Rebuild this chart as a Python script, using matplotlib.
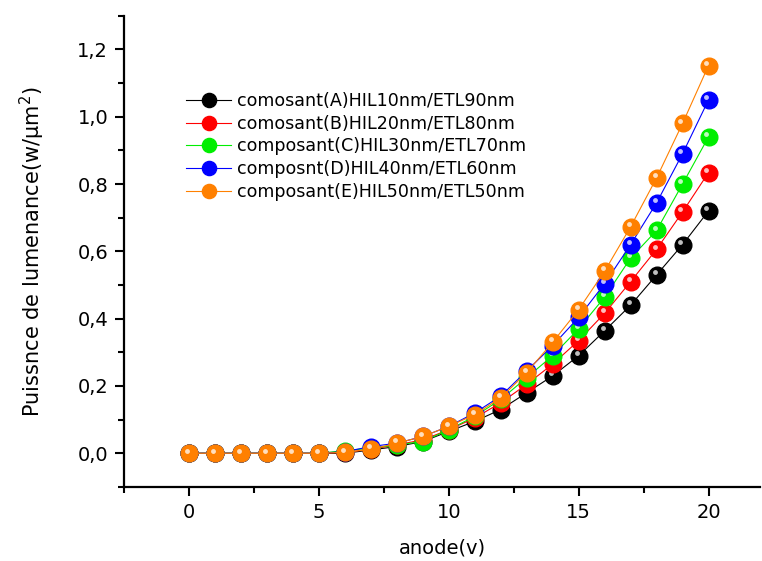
import matplotlib.pyplot as plt
from matplotlib.ticker import MultipleLocator, FuncFormatter
from matplotlib.transforms import offset_copy

plt.rcParams['font.family'] = ['DejaVu Sans']

x = list(range(21))
serie_a = [0, 0, 0, 0, 0, 0, 0.0, 0.01, 0.02, 0.035, 0.065, 0.095, 0.13, 0.18, 0.23, 0.29, 0.364, 0.44, 0.53, 0.62, 0.72]
serie_b = [0, 0, 0, 0, 0, 0, 0.003, 0.012, 0.025, 0.04, 0.07, 0.105, 0.15, 0.205, 0.265, 0.335, 0.416, 0.51, 0.606, 0.717, 0.834]
serie_c = [0, 0, 0, 0, 0, 0, 0.008, 0.015, 0.025, 0.035, 0.07, 0.11, 0.16, 0.225, 0.29, 0.37, 0.464, 0.58, 0.662, 0.80, 0.94]
serie_d = [0, 0, 0, 0, 0, 0, 0.005, 0.02, 0.03, 0.05, 0.08, 0.12, 0.17, 0.245, 0.32, 0.404, 0.504, 0.62, 0.744, 0.89, 1.05]
serie_e = [0, 0, 0, 0, 0, 0, 0.003, 0.012, 0.03, 0.05, 0.08, 0.115, 0.165, 0.24, 0.33, 0.427, 0.541, 0.673, 0.818, 0.98, 1.152]

labels = ['comosant(A)HIL10nm/ETL90nm', 'comosant(B)HIL20nm/ETL80nm',
          'composant(C)HIL30nm/ETL70nm', 'composnt(D)HIL40nm/ETL60nm',
          'composant(E)HIL50nm/ETL50nm']
colors = ['black', 'red', '#00ee00', '#0000ff', '#ff8000']
series = [serie_a, serie_b, serie_c, serie_d, serie_e]

fig = plt.figure(figsize=(7.62, 5.61), dpi=100)
ax = fig.add_axes([0.163, 0.132, 0.835, 0.84])

# small white spot on each ball to mimic the shaded spheres
hl = offset_copy(ax.transData, fig=fig, x=-1.5, y=2.0, units='points')
for y, c, lab in zip(series, colors, labels):
    ax.plot(x, y, '-', color=c, lw=0.8, marker='o', ms=12, mec=c, mfc=c, label=lab)
    ax.plot(x, y, 'o', color='white', ms=3.5, alpha=0.75, mec='none', transform=hl)

ax.set_xlim(-2.5, 22)
ax.set_ylim(-0.1, 1.3)
ax.xaxis.set_major_locator(MultipleLocator(5))
ax.xaxis.set_minor_locator(MultipleLocator(2.5))
ax.yaxis.set_major_locator(MultipleLocator(0.2))
ax.yaxis.set_minor_locator(MultipleLocator(0.1))
ax.yaxis.set_major_formatter(FuncFormatter(lambda v, p: f'{v:.1f}'.replace('.', ',')))
ax.spines['top'].set_visible(False)
ax.spines['right'].set_visible(False)
for s in ('left', 'bottom'):
    ax.spines[s].set_linewidth(1.6)
ax.tick_params(which='major', direction='out', length=6.5, width=1.5, labelsize=14, pad=5)
ax.tick_params(which='minor', direction='out', length=4, width=1.5)

ax.set_xlabel('anode(v)', fontsize=14, labelpad=12)
ax.set_ylabel('Puissnce de lumenance(w/μm$^2$)', fontsize=15, labelpad=22)

ax.legend(loc='upper left', bbox_to_anchor=(0.097, 0.838), frameon=False, fontsize=12.6,
          borderpad=0, borderaxespad=0, handlelength=2.6, handletextpad=0.3,
          labelspacing=0.27, markerscale=0.85)

fig.savefig('out.png', dpi=100)
